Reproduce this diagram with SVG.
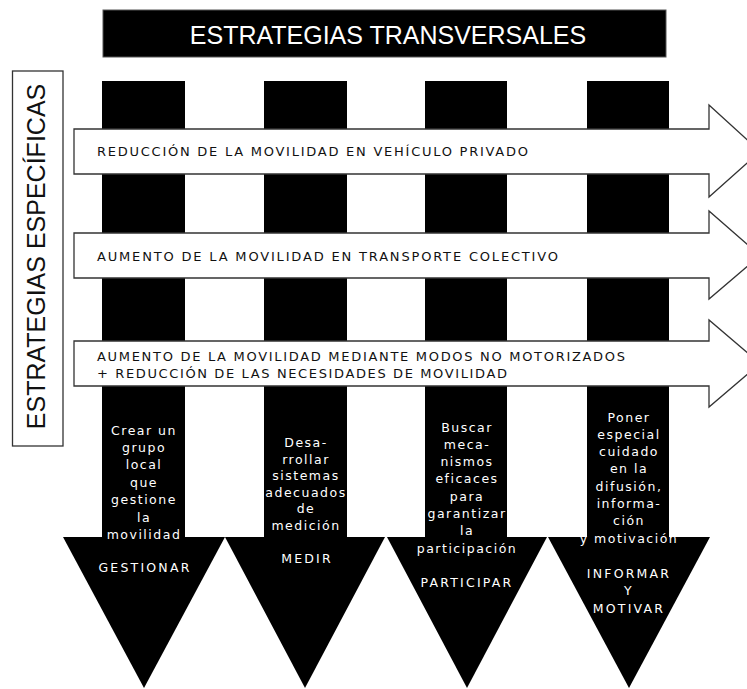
<svg xmlns="http://www.w3.org/2000/svg" width="747" height="689" viewBox="0 0 747 689">
<style>
.bar{fill:#000}
.band{fill:#fff;stroke:#333;stroke-width:1.3;stroke-linejoin:miter}
.bt{font-family:"DejaVu Sans",sans-serif;font-size:13px;fill:#111}
.wt{font-family:"DejaVu Sans",sans-serif;font-size:12.5px;fill:#fff;text-anchor:middle;letter-spacing:1.5px}
.wl{font-family:"DejaVu Sans",sans-serif;font-size:12.5px;fill:#fff;text-anchor:middle;letter-spacing:2.2px}
</style>
<rect width="747" height="689" fill="#fff"/>
<g id="banner">
<rect x="103" y="10" width="563" height="47" fill="#000" stroke="#555" stroke-width="1"/>
<text x="388" y="44" font-family="Liberation Sans, Arial, sans-serif" font-size="25" fill="#fff" text-anchor="middle">ESTRATEGIAS TRANSVERSALES</text>
</g>
<g id="side">
<rect x="12.5" y="71" width="50.5" height="375" fill="#fff" stroke="#333" stroke-width="1.3"/>
<text transform="translate(45,256.5) rotate(-90)" font-family="Liberation Sans, Arial, sans-serif" font-size="25" fill="#111" text-anchor="middle">ESTRATEGIAS ESPECÍFICAS</text>
</g>
<g id="gestionar">
<rect class="bar" x="102" y="81" width="83" height="457"/>
<polygon class="bar" points="63,537 225,537 144,688"/>
</g>
<g id="medir">
<rect class="bar" x="264" y="81" width="83" height="457"/>
<polygon class="bar" points="225,537 385,537 305,688"/>
</g>
<g id="participar">
<rect class="bar" x="425" y="81" width="82" height="457"/>
<polygon class="bar" points="387,537 547,537 467,688"/>
</g>
<g id="informar">
<rect class="bar" x="587" y="81" width="82" height="457"/>
<polygon class="bar" points="548,537 710,537 629,688"/>
</g>
<g id="connectors">
<path class="band" d="M74,129 H709 V105 L760,151.5 L709,197 V174 H74 Z"/>
<path class="band" d="M74,233 H709 V211 L760,255.5 L709,299 V278 H74 Z"/>
<path class="band" d="M74,341 H709 V320 L760,363.5 L709,407 V386 H74 Z"/>
</g>
<g id="band1">
<text class="bt" x="97" y="156" textLength="431" lengthAdjust="spacing">REDUCCIÓN DE LA MOVILIDAD EN VEHÍCULO PRIVADO</text>
</g>
<g id="band2">
<text class="bt" x="97" y="260.5" textLength="461" lengthAdjust="spacing">AUMENTO DE LA MOVILIDAD EN TRANSPORTE COLECTIVO</text>
</g>
<g id="band3">
<text class="bt" x="97" y="361" textLength="528" lengthAdjust="spacing">AUMENTO DE LA MOVILIDAD MEDIANTE MODOS NO MOTORIZADOS</text>
<text class="bt" x="97" y="378" textLength="410" lengthAdjust="spacing">+ REDUCCIÓN DE LAS NECESIDADES DE MOVILIDAD</text>
</g>
<g id="gestionar-text">
<text class="wt" x="144" y="434.5">Crear un</text>
<text class="wt" x="144" y="451.9">grupo</text>
<text class="wt" x="144" y="469.3">local</text>
<text class="wt" x="144" y="486.7">que</text>
<text class="wt" x="144" y="504.1">gestione</text>
<text class="wt" x="144" y="521.5">la</text>
<text class="wt" x="144" y="538.9">movilidad</text>
<text class="wl" x="145" y="572">GESTIONAR</text>
</g>
<g id="medir-text">
<text class="wt" x="306" y="447">Desa-</text>
<text class="wt" x="306" y="463.5">rrollar</text>
<text class="wt" x="306" y="480">sistemas</text>
<text class="wt" x="306" y="496.5">adecuados</text>
<text class="wt" x="306" y="513">de</text>
<text class="wt" x="306" y="529.5">medición</text>
<text class="wl" x="307" y="563">MEDIR</text>
</g>
<g id="participar-text">
<text class="wt" x="467" y="431.5">Buscar</text>
<text class="wt" x="467" y="448.8">meca-</text>
<text class="wt" x="467" y="466.1">nismos</text>
<text class="wt" x="467" y="483.4">eficaces</text>
<text class="wt" x="467" y="500.7">para</text>
<text class="wt" x="467" y="518">garantizar</text>
<text class="wt" x="467" y="535.3">la</text>
<text class="wt" x="467" y="552.6">participación</text>
<text class="wl" x="467" y="587">PARTICIPAR</text>
</g>
<g id="informar-text">
<text class="wt" x="629" y="421.5">Poner</text>
<text class="wt" x="629" y="438.8">especial</text>
<text class="wt" x="629" y="456.1">cuidado</text>
<text class="wt" x="629" y="473.4">en la</text>
<text class="wt" x="629" y="490.7">difusión,</text>
<text class="wt" x="629" y="508">informa-</text>
<text class="wt" x="629" y="525.3">ción</text>
<text class="wt" x="629" y="542.6">y motivación</text>
<text class="wl" x="629" y="578">INFORMAR</text>
<text class="wl" x="629" y="595">Y</text>
<text class="wl" x="629" y="613">MOTIVAR</text>
</g>
</svg>
